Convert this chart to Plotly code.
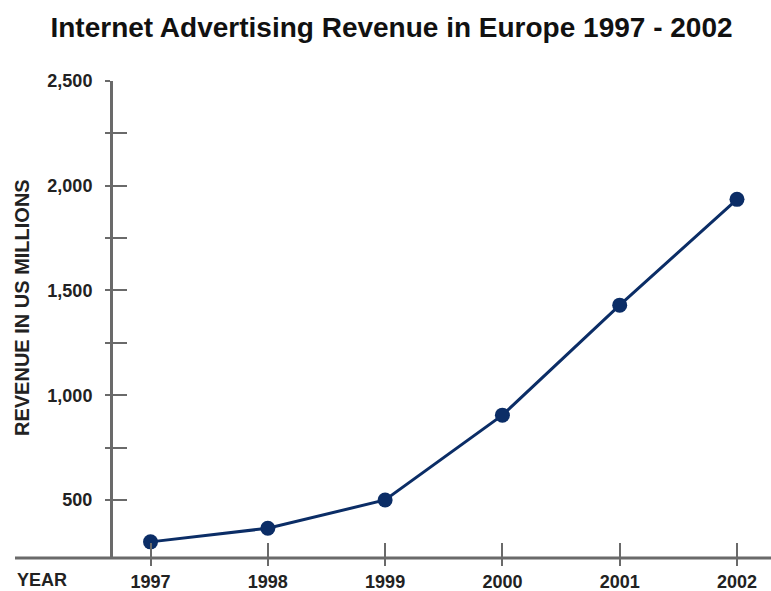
import plotly.graph_objects as go

years = [1997, 1998, 1999, 2000, 2001, 2002]
revenue = [300, 365, 500, 905, 1430, 1935]
x_ticktext = ["1997", "1998", "1999", "2000", "2001", "2002"]
y_tickvals = [500, 750, 1000, 1250, 1500, 1750, 2000, 2250, 2500]
y_ticktext = ["500", "", "1,000", "", "1,500", "", "2,000", "", "2,500"]

AX = "#6a6a6a"
LINE = "#0b2d66"
FONT = "Liberation Sans, Arial, sans-serif"

L = 113
PW = 771 - L
PH = 477

fig = go.Figure()
fig.add_trace(go.Scatter(
    x=years, y=revenue, mode="lines+markers",
    line=dict(color=LINE, width=3),
    marker=dict(color=LINE, size=15),
    hoverinfo="x+y", showlegend=False,
))
# helper trace for overlay axes (crossing ticks)
fig.add_trace(go.Scatter(
    x=years, y=revenue, mode="markers", xaxis="x2", yaxis="y2",
    marker=dict(opacity=0), hoverinfo="skip", showlegend=False,
))

xr = [1996.68, 2002.29]
yr = [223, 2500]
tfont = dict(family=FONT, size=18, color="#222", weight="bold")

fig.update_layout(
    width=771, height=591,
    margin=dict(l=L, r=0, t=81, b=33),
    paper_bgcolor="white", plot_bgcolor="white",
    title=dict(
        text="<b>Internet Advertising Revenue in Europe 1997 - 2002</b>",
        x=391.5 / 771, xanchor="center", y=1 - 27 / 591, yanchor="middle",
        font=dict(family="Liberation Sans Narrow, Arial Narrow, Liberation Sans, sans-serif", size=28, color="#111"),
    ),
    xaxis=dict(
        range=xr, tickvals=years, ticktext=x_ticktext, automargin=False,
        ticks="outside", ticklen=7, tickwidth=2, tickcolor=AX,
        showline=False, showgrid=False, zeroline=False,
        tickfont=tfont, ticklabelstandoff=0,
    ),
    yaxis=dict(
        range=yr, tickvals=y_tickvals, ticktext=y_ticktext, automargin=False,
        ticks="outside", ticklen=5, tickwidth=2, tickcolor=AX,
        showline=True, linecolor=AX, linewidth=3,
        showgrid=False, zeroline=False,
        tickfont=tfont, ticklabelstandoff=9,
    ),
    xaxis2=dict(
        range=xr, overlaying="x", anchor="y2", tickvals=years, automargin=False,
        ticks="inside", ticklen=15, tickwidth=2, tickcolor=AX,
        showticklabels=False, showline=False, showgrid=False, zeroline=False,
    ),
    yaxis2=dict(
        range=yr, overlaying="y", anchor="x2", side="left", tickvals=y_tickvals,
        automargin=False,
        ticks="inside", ticklen=14, tickwidth=2, tickcolor=AX,
        showticklabels=False, showline=False, showgrid=False, zeroline=False,
    ),
    shapes=[dict(
        type="line", xref="paper", yref="paper",
        x0=(15 - L) / PW, x1=1, y0=0, y1=0,
        line=dict(color=AX, width=3), layer="above",
    )],
    annotations=[
        dict(text="<b>REVENUE IN US MILLIONS</b>", xref="paper", yref="paper",
             x=(22 - L) / PW, y=(558 - 308) / PH, textangle=-90,
             xanchor="center", yanchor="middle", showarrow=False,
             font=dict(family=FONT, size=20, color="#222")),
        dict(text="<b>YEAR</b>", xref="paper", yref="paper",
             x=(15 - L) / PW, y=(558 - 580) / PH,
             xanchor="left", yanchor="middle", showarrow=False,
             font=dict(family=FONT, size=18, color="#222")),
    ],
)
fig.write_html("out.html")
